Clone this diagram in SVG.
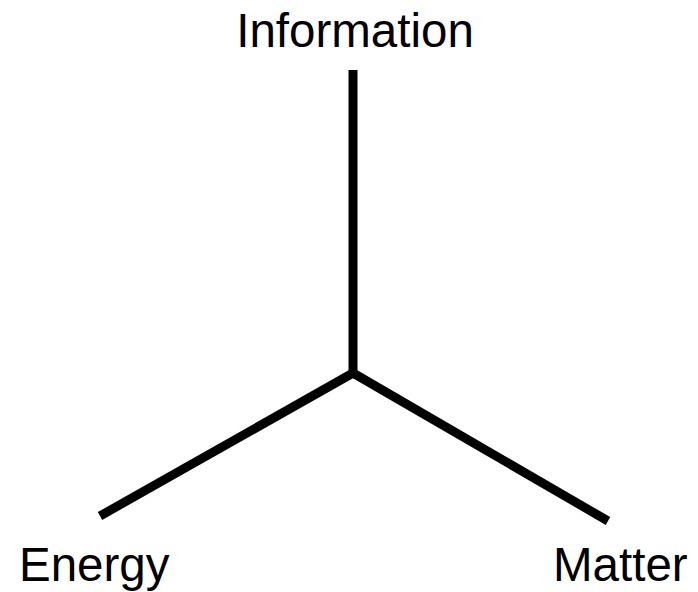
<svg xmlns="http://www.w3.org/2000/svg" width="698" height="592" viewBox="0 0 698 592">
<style>
.c{stroke:#000;stroke-width:9;fill:none;stroke-linejoin:miter}
.t{font-family:"Liberation Sans",Arial,sans-serif;font-size:47.5px;fill:#000}
</style>
<rect width="698" height="592" fill="#fff"/>
<g id="connectors">
<path class="c" d="M353 70 V373"/>
<path class="c" d="M353 373 L100 516"/>
<path class="c" d="M353 373 L608 521"/>
</g>
<g id="information"><text class="t" x="355" y="47" text-anchor="middle">Information</text></g>
<g id="energy"><text class="t" x="19" y="581">Energy</text></g>
<g id="matter"><text class="t" x="553" y="581">Matter</text></g>
</svg>
